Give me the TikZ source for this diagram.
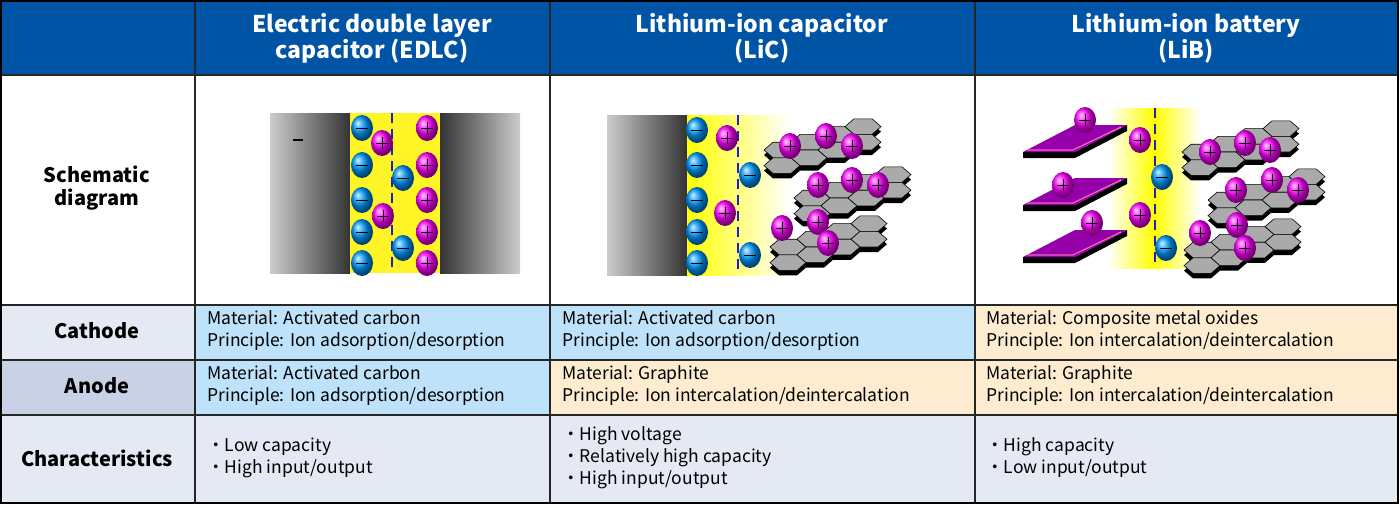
\documentclass[tikz,border=0pt]{standalone}
\usepackage{fontspec}
\setmainfont{Noto Sans CJK JP}
\definecolor{headblue}{RGB}{0,84,166}
\definecolor{cellblue}{RGB}{190,226,250}
\definecolor{cellbeige}{RGB}{253,236,208}
\definecolor{cellgrey}{RGB}{229,233,243}
\definecolor{labdark}{RGB}{200,209,229}
\definecolor{hexgrey}{RGB}{170,170,170}
\definecolor{plate}{RGB}{150,0,170}
\definecolor{dashblue}{RGB}{30,30,200}
\tikzset{every picture/.style={line width=0.75pt}}
\tikzset{
  head/.style={text=white,font=\fontsize{23}{26}\selectfont\bfseries,align=center},
  rowlab/.style={font=\fontsize{20}{23}\selectfont\bfseries,align=center},
  body/.style={anchor=west,font=\fontsize{17.5}{22}\selectfont,align=left,inner sep=0pt},
  pion/.pic={\shade[ball color=magenta] (0,0) ellipse (11 and 13);
    \draw[line width=1] (-6,0)--(6,0) (0,-6)--(0,6);},
  nion/.pic={\shade[ball color=cyan!60!blue] (0,0) ellipse (11 and 13);
    \draw[line width=1] (-6,0)--(6,0);},
  hexsheet/.pic={
    \begin{scope}[yscale=.5]
    \foreach \a in {0,...,3}\foreach \b in {0,1}
      \fill[black,shift={(27*\a-40,15.6*\a-31.2*\b-10)}] (0:18)--(60:18)--(120:18)--(180:18)--(240:18)--(300:18)--cycle;
    \foreach \a in {0,...,3}\foreach \b in {0,1}
      \draw[fill=hexgrey,line width=.6,shift={(27*\a-40,15.6*\a-31.2*\b)}] (0:18)--(60:18)--(120:18)--(180:18)--(240:18)--(300:18)--cycle;
    \end{scope}},
  platepic/.pic={
    \fill[black] (0,0)--(52,0)--(104,27)--(104,21)--(52,-6)--(0,-6)--cycle;
    \fill[plate] (0,0)--(52,0)--(104,27)--(52,27)--cycle;
    \draw[magenta!60,line width=1.2] (4,2)--(50,2)--(98,25);}
}

\begin{document}
\begin{tikzpicture}[x=1pt,y=1pt,yscale=-1]
\useasboundingbox (0,0) rectangle (1400,507);
%cells
\fill[headblue] (0,0) rectangle (1398,75);
\fill[cellgrey] (0,305) rectangle (195,360);
\fill[labdark] (0,360) rectangle (195,415);
\fill[cellgrey] (0,415) rectangle (1398,503);
\fill[cellblue] (195,305) rectangle (975,360);
\fill[cellbeige] (975,305) rectangle (1398,415);
\fill[cellblue] (195,360) rectangle (550,415);
\fill[cellbeige] (550,360) rectangle (975,415);
%grid
\draw[line width=1.2,black!85] (0,75)--(1398,75) (0,305)--(1398,305) (0,360)--(1398,360) (0,415)--(1398,415);
\draw[line width=1.2,black!85] (195,0)--(195,503) (550,0)--(550,503) (975,0)--(975,503);
\draw[line width=2] (1,1) rectangle (1398,503);

%header
\node[head] (hedlc) at (372,38) {Electric double layer\\capacitor (EDLC)};
\node[head] (hlic) at (762,38) {Lithium-ion capacitor\\(LiC)};
\node[head] (hlib) at (1186,38) {Lithium-ion battery\\(LiB)};
\node[rowlab] (lsch) at (97,188) {Schematic\\diagram};
\node[rowlab] (lcat) at (97,331) {Cathode};
\node[rowlab] (lano) at (97,386) {Anode};
\node[rowlab] (lchr) at (97,458) {Characteristics};

%EDLC
\shade[left color=black!20,right color=black!80] (270,113) rectangle (350,273);
\shade[left color=black!80,right color=black!20] (440,113) rectangle (520,273);
\fill[yellow!85] (350,113) rectangle (440,273);
\draw[dashblue,line width=1.5,dash pattern=on 10pt off 6pt] (392,113)--(392,273);
\draw[line width=1.2] (293,140)--(303,140);
\foreach \y in {128,165,200,232,263} {\pic at (362,\y) {nion}; \pic at (427,\y) {pion};}
\pic at (382,143) {pion}; \pic at (383,216) {pion};
\pic at (403,178) {nion}; \pic at (403,248) {nion};

%LiC
\shade[left color=black!20,right color=black!80] (607,115) rectangle (687,275);
\shade[left color=yellow,right color=white] (687,115) rectangle (790,275);
\draw[dashblue,line width=1.5,dash pattern=on 10pt off 6pt] (738,115)--(738,275);
\foreach \y in {130,165,200,232,263} \pic at (697,\y) {nion};
\pic at (727,138) {pion}; \pic at (725,213) {pion};
\pic at (750,175) {nion}; \pic at (750,255) {nion};
\pic at (822,150) {hexsheet}; \pic at (852,198) {hexsheet}; \pic at (828,247) {hexsheet};
\foreach \p in {(790,146),(826,136),(852,146),(818,185),(852,180),(878,185),(782,228),(818,222),(828,243)} \pic at \p {pion};

%LiB
\shade[left color=white,right color=white,middle color=yellow] (1108,108) rectangle (1200,268);
\draw[dashblue,line width=1.5,dash pattern=on 10pt off 6pt] (1155,108)--(1155,268);
\pic at (1023,152) {platepic}; \pic at (1023,205) {platepic}; \pic at (1023,257) {platepic};
\foreach \p in {(1085,120),(1063,185),(1092,223),(1140,140),(1140,215)} \pic at \p {pion};
\pic at (1162,177) {nion}; \pic at (1166,248) {nion};
\pic at (1240,152) {hexsheet}; \pic at (1266,200) {hexsheet}; \pic at (1242,250) {hexsheet};
\foreach \p in {(1210,152),(1245,143),(1270,150),(1236,190),(1272,180),(1298,190),(1200,233),(1237,225),(1245,248)} \pic at \p {pion};

%texts
\node[body] (c1) at (207,331) {Material: Activated carbon\\Principle: Ion adsorption/desorption};
\node[body] (c2) at (562,331) {Material: Activated carbon\\Principle: Ion adsorption/desorption};
\node[body] (c3) at (986,331) {Material: Composite metal oxides\\Principle: Ion intercalation/deintercalation};
\node[body] (a1) at (207,386) {Material: Activated carbon\\Principle: Ion adsorption/desorption};
\node[body] (a2) at (562,386) {Material: Graphite\\Principle: Ion intercalation/deintercalation};
\node[body] (a3) at (986,386) {Material: Graphite\\Principle: Ion intercalation/deintercalation};
\node[body] (h1) at (207,458) {・Low capacity\\・High input/output};
\node[body] (h2) at (562,458) {・High voltage\\・Relatively high capacity\\・High input/output};
\node[body] (h3) at (986,458) {・High capacity\\・Low input/output};
\end{tikzpicture}
\end{document}
